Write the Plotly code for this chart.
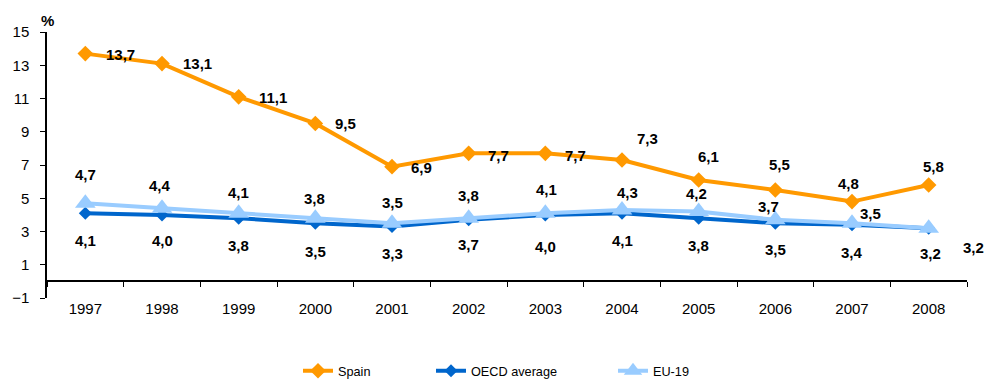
import plotly.graph_objects as go

years = ["1997", "1998", "1999", "2000", "2001", "2002", "2003", "2004", "2005", "2006", "2007", "2008"]
spain = [13.7, 13.1, 11.1, 9.5, 6.9, 7.7, 7.7, 7.3, 6.1, 5.5, 4.8, 5.8]
oecd = [4.1, 4.0, 3.8, 3.5, 3.3, 3.7, 4.0, 4.1, 3.8, 3.5, 3.4, 3.2]
eu19 = [4.7, 4.4, 4.1, 3.8, 3.5, 3.8, 4.1, 4.3, 4.2, 3.7, 3.5, 3.2]

# label offsets (pixels) for value labels
spain_off = [(35, -1), (35, 0), (34, -1), (30, 0), (29, -1), (30, -2), (30, -2),
             (25, 22), (10, 23), (4, 25), (-4, 18), (5, 18)]
oecd_off = [(0, -27), (0, -26), (0, -27), (0, -28), (0, -27), (0, -25), (0, -32),
            (0, -27), (0, -27), (0, -26), (0, -28), (2, -25)]
eu_off = [(0, 29), (-2, 23), (0, 21), (-1, 20), (0, 21), (0, 23), (1, 24),
          (5, 17), (-2, 18), (-7, 13), (18, 10), (45, -19)]

C_SPAIN = "#FF9900"
C_OECD = "#0066CC"
C_EU = "#99CCFF"
FONT = "Liberation Sans, Arial, sans-serif"

fig = go.Figure()
fig.add_trace(go.Scatter(x=years, y=spain, name="Spain", mode="lines+markers",
                         line=dict(color=C_SPAIN, width=4),
                         marker=dict(symbol="diamond", size=12, color=C_SPAIN),
                         legend="legend"))
fig.add_trace(go.Scatter(x=years, y=oecd, name="OECD average", mode="lines+markers",
                         line=dict(color=C_OECD, width=4),
                         marker=dict(symbol="diamond", size=10, color=C_OECD),
                         legend="legend2"))
fig.add_trace(go.Scatter(x=years, y=eu19, name="EU-19", mode="lines+markers",
                         line=dict(color=C_EU, width=4),
                         marker=dict(symbol="triangle-up", size=18, color=C_EU),
                         legend="legend3"))

def fmt(v):
    return f"{v:.1f}".replace(".", ",")

annotations = []
for vals, offs in ((spain, spain_off), (oecd, oecd_off), (eu19, eu_off)):
    for i, (v, (dx, dy)) in enumerate(zip(vals, offs)):
        annotations.append(dict(x=i, y=v, xref="x", yref="y", text=fmt(v),
                                showarrow=False, xshift=dx, yshift=dy,
                                font=dict(family=FONT, size=15, color="black", weight="bold")))
annotations.append(dict(x=0, y=1, xref="paper", yref="paper", text="%", showarrow=False,
                        xanchor="center", yanchor="bottom", yshift=1,
                        font=dict(family=FONT, size=15, color="black", weight="bold")))

leg_common = dict(orientation="h", xref="container", yref="container", yanchor="middle",
                  y=8 / 379, font=dict(family=FONT, size=12.7, color="black"),
                  bgcolor="rgba(0,0,0,0)", itemwidth=30)

fig.update_layout(
    width=987, height=379,
    margin=dict(l=45, r=20, t=32, b=81),
    paper_bgcolor="white", plot_bgcolor="white",
    showlegend=True,
    legend=dict(x=298 / 987, **leg_common),
    legend2=dict(x=431 / 987, **leg_common),
    legend3=dict(x=613 / 987, **leg_common),
    annotations=annotations,
    xaxis=dict(type="category", range=[-0.5, 11.5], anchor="free", position=1 / 16,
               showline=True, linecolor="black", linewidth=1.5,
               ticks="outside", ticklen=5, tickcolor="black", tickson="boundaries",
               ticklabelstandoff=14, showgrid=False, zeroline=False,
               tickfont=dict(family=FONT, size=15, color="black")),
    yaxis=dict(range=[-1, 15], tick0=-1, dtick=2, showline=True, linecolor="black",
               linewidth=1.5, ticks="outside", ticklen=5, tickcolor="black",
               showgrid=False, zeroline=False, ticklabelstandoff=8,
               tickfont=dict(family=FONT, size=15, color="black")),
)

fig.write_html("out.html", config={"displayModeBar": False},
               post_script="document.body.style.margin='0';")
